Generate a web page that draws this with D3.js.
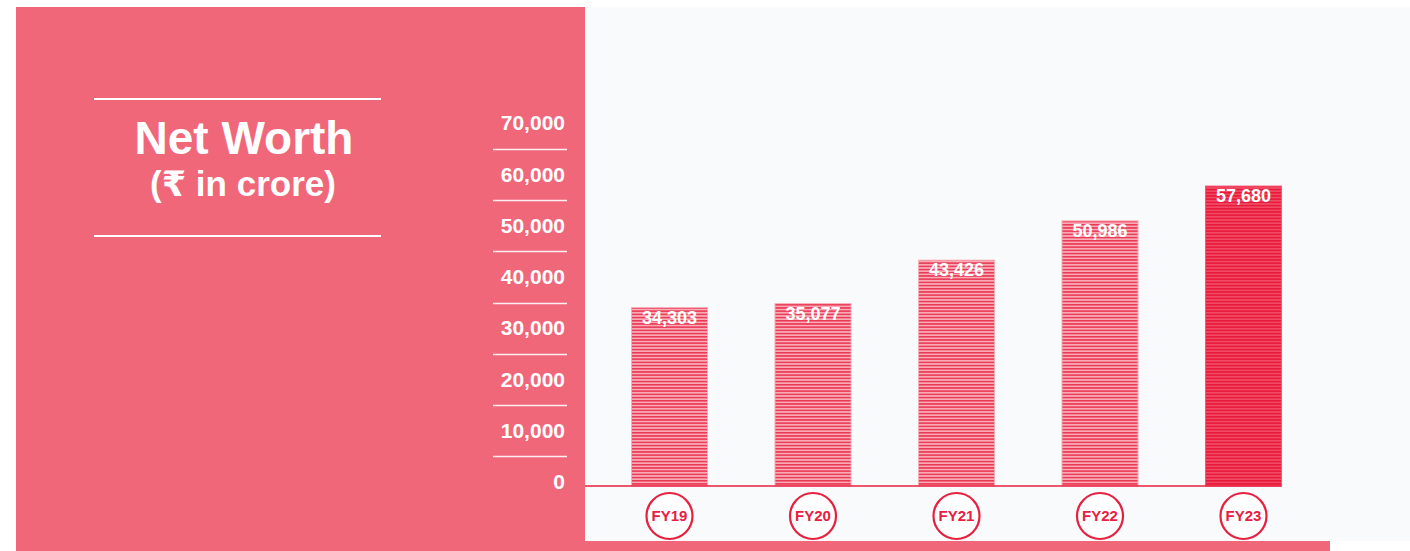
<!DOCTYPE html>
<html><head><meta charset="utf-8">
<script src="https://cdn.jsdelivr.net/npm/d3@7"></script>
<style>html,body{margin:0;padding:0;background:#fff;}svg{display:block;font-family:"Liberation Sans",Arial,"DejaVu Sans",sans-serif;}</style>
</head><body>
<script>
const categories = ["FY19","FY20","FY21","FY22","FY23"];
const values = [34303, 35077, 43426, 50986, 57680];
const valueLabels = ["34,303","35,077","43,426","50,986","57,680"];
const tickValues = [0,10000,20000,30000,40000,50000,60000,70000];
const titleLines = ["Net Worth","(₹ in crore)"];

const W = 1410, H = 551;
const svg = d3.select("body").append("svg").attr("width", W).attr("height", H);
const PINK = "#F0677A", LIGHT = "#F9FAFC", RED = "#E8203F";

// backgrounds
svg.append("rect").attr("x",16).attr("y",7).attr("width",569).attr("height",H-7).attr("fill",PINK);
svg.append("rect").attr("x",585).attr("y",7).attr("width",W-585).attr("height",534).attr("fill",LIGHT);
svg.append("rect").attr("x",585).attr("y",541).attr("width",745).attr("height",10).attr("fill",PINK);

// patterns
const defs = svg.append("defs");
function pat(id, bg, line){
  const p = defs.append("pattern").attr("id",id).attr("patternUnits","userSpaceOnUse")
    .attr("width",4).attr("height",3.2);
  p.append("rect").attr("width",4).attr("height",3.2).attr("fill",bg);
  p.append("rect").attr("y",0).attr("width",4).attr("height",1.5).attr("fill",line);
}
pat("stripe","#F9ABB6","#EA3553");
pat("stripeHi","#F14A64","#E81738");

// scales
const y = d3.scaleLinear().domain([0,70000]).range([486,122]);
// axis label scale (labels in the source are laid out slightly tighter than the bars)
const yLab = d3.scaleLinear().domain([0,70000]).range([482,123]);
const x = d3.scaleBand().domain(categories).range([597.75,1315.25]).paddingInner(0.47).paddingOuter(0.235);

// title
svg.append("line").attr("x1",94).attr("x2",381).attr("y1",99).attr("y2",99).attr("stroke","#fff").attr("stroke-width",2);
svg.append("line").attr("x1",94).attr("x2",381).attr("y1",236).attr("y2",236).attr("stroke","#fff").attr("stroke-width",2);
svg.append("text").attr("x",244).attr("y",154).attr("text-anchor","middle").attr("fill","#fff")
  .attr("font-weight","bold").attr("font-size",46).text(titleLines[0]);
svg.append("text").attr("x",243).attr("y",196).attr("text-anchor","middle").attr("fill","#fff")
  .attr("font-weight","bold").attr("font-size",35).text(titleLines[1]);

// y axis labels and separators
const ax = svg.append("g");
ax.selectAll("text.tick").data(tickValues).join("text")
  .attr("x",565).attr("y",d=>yLab(d)).attr("dy","0.35em").attr("text-anchor","end")
  .attr("fill","#fff").attr("font-weight","bold").attr("font-size",21)
  .text(d=>d3.format(",")(d));
ax.selectAll("line.sep").data(tickValues.slice(0,-1)).join("line")
  .attr("x1",493).attr("x2",567).attr("y1",d=>Math.round(yLab(d+5000))+0.5).attr("y2",d=>Math.round(yLab(d+5000))+0.5)
  .attr("stroke","#fff").attr("stroke-opacity",0.9).attr("stroke-width",1.5);

// bars
svg.selectAll("rect.bar").data(values).join("rect")
  .attr("x",(d,i)=>x(categories[i])).attr("width",x.bandwidth())
  .attr("y",d=>y(d)).attr("height",d=>y(0)-y(d))
  .attr("fill",(d,i)=>i===values.length-1?"url(#stripeHi)":"url(#stripe)")
  .attr("stroke",(d,i)=>i===values.length-1?"#F45A72":"#F9AEB8").attr("stroke-width",1);

svg.selectAll("text.val").data(values).join("text")
  .attr("x",(d,i)=>x(categories[i])+x.bandwidth()/2).attr("y",d=>y(d)+16)
  .attr("text-anchor","middle").attr("fill","#fff").attr("font-weight","bold").attr("font-size",18)
  .text((d,i)=>valueLabels[i]);

// baseline
svg.append("line").attr("x1",585).attr("x2",x(categories[4])+x.bandwidth()).attr("y1",y(0)).attr("y2",y(0))
  .attr("stroke",RED).attr("stroke-width",1.5);

// category circles
const cg = svg.selectAll("g.cat").data(categories).join("g")
  .attr("transform",d=>`translate(${x(d)+x.bandwidth()/2},516)`);
cg.append("circle").attr("r",23).attr("fill","#fff").attr("stroke",RED).attr("stroke-width",2.2);
cg.append("text").attr("text-anchor","middle").attr("dy","0.36em").attr("fill",RED)
  .attr("font-weight","bold").attr("font-size",15).text(d=>d);
</script>
</body></html>
